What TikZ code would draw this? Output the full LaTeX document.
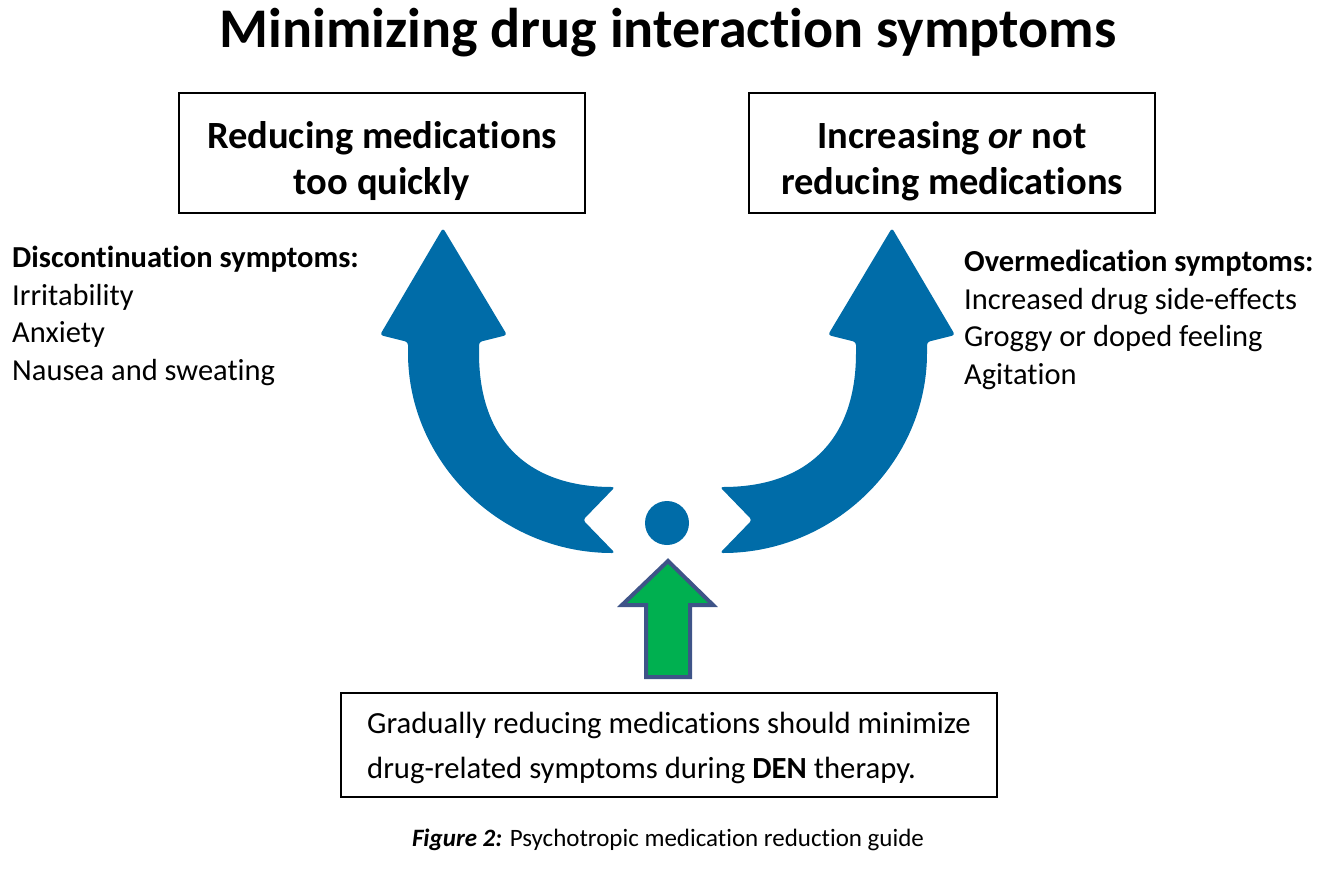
\documentclass[tikz,border=0pt]{standalone}
\usepackage{fontspec}
\setmainfont{Carlito}[Ligatures=NoCommon]
\definecolor{arrowblue}{RGB}{0,108,168}
\definecolor{upgreen}{RGB}{0,176,80}
\definecolor{upedge}{RGB}{62,84,136}

\begin{document}
\begin{tikzpicture}[x=1pt,y=-1pt,
        box/.style={draw,line width=2pt,inner sep=0pt},
        list/.style={anchor=base west,align=left,inner sep=0pt,font=\fontsize{30.5}{37.5}\selectfont},
        bluebend/.style={fill=arrowblue,rounded corners=3pt}]
        \useasboundingbox (0,0) rectangle (1338,868);

        \node (title) at (668,47) [anchor=base,inner sep=0pt,font=\fontsize{56}{60}\selectfont\bfseries] {Minimizing drug interaction symptoms};

        % base of a box = baseline of its last line
        \node (reduce) at (382,194) [box,anchor=base,align=center,minimum width=406,text height=101,text depth=19,font=\fontsize{38.5}{46}\selectfont\bfseries] {Reducing medications\\too quickly};
        \node (keep) at (952,194) [box,anchor=base,align=center,minimum width=406,text height=101,text depth=19,font=\fontsize{38.5}{46}\selectfont\bfseries] {Increasing \emph{or} not\\reducing medications};

        \node (disc) at (12,380) [list] {\textbf{Discontinuation symptoms:}\\Irritability\\Anxiety\\Nausea and sweating};
        \node (over) at (964,384) [list] {\textbf{Overmedication symptoms:}\\Increased drug side-effects\\Groggy or doped feeling\\Agitation};

        % the two bent arrows, the right one mirrored
        \foreach \side/\off in {1/0,-1/1335}
            \fill[bluebend,xshift=\off pt,xscale=\side] (443,228) -- (507,335) -- (479,342) -- (479,350)
                .. controls (479,439) and (527,487) .. (615,487)
                -- (583,520) -- (615,553)
                arc[start angle=90,end angle=180,x radius=207,y radius=203]
                -- (408,342) -- (380,335) -- cycle;

        \node (dot) at (667,523) [circle,fill=arrowblue,inner sep=0pt,minimum size=44] {};

        \filldraw[fill=upgreen,draw=upedge,line width=4pt] (668,561) -- (713,605) -- (690,605) -- (690,677) -- (646,677) -- (646,605) -- (622,605) -- cycle;

        \node (guide) at (669,778) [box,anchor=base,align=left,minimum width=656,text height=85,text depth=19,font=\fontsize{30.7}{45}\selectfont] {Gradually reducing medications should minimize\\drug-related symptoms during \textbf{DEN} therapy.};

        \node (caption) at (668,846) [anchor=base,inner sep=0pt,font=\fontsize{25}{30}\selectfont] {\textbf{\textit{Figure 2:}} Psychotropic medication reduction guide};
    \end{tikzpicture}
\end{document}
